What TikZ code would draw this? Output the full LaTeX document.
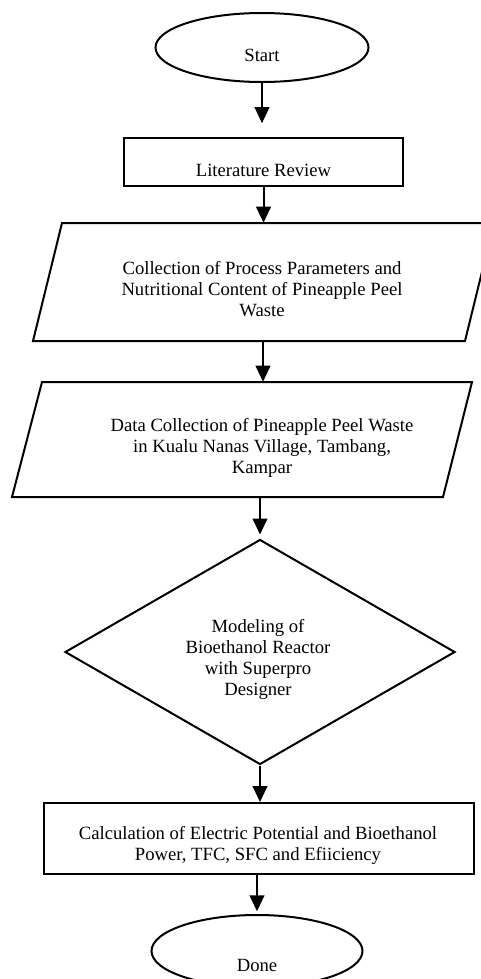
\documentclass[tikz,border=0pt]{standalone}
\usepackage{fontspec}
\setmainfont{Liberation Serif}
\usetikzlibrary{shapes.geometric,arrows.meta}
\begin{document}
\begin{tikzpicture}[x=0.75pt,y=-0.75pt,
  shapeline/.style={draw=black,line width=1.5pt},
  txt/.style={font=\fontsize{14}{15.75}\selectfont,align=center,inner sep=0pt},
  flow/.style={line width=1.5pt,-{Triangle[length=12pt,width=11pt]}}]
\useasboundingbox (0,0) rectangle (481,979);
\clip (0,0) rectangle (481,979);
% shapes
\node[shapeline,ellipse,minimum width=159.75pt,minimum height=51.75pt,inner sep=0pt] (start) at (262,47.5) {};
\node[txt] (tstart) at (262,55) {Start};

\node[shapeline,rectangle,minimum width=209.25pt,minimum height=36pt,inner sep=0pt] (lit) at (263.5,161.5) {};
\node[txt] (tlit) at (263.5,170) {Literature Review};

\draw[shapeline] (62,223) -- (494,223) -- (465,341) -- (33,341) -- cycle;
\node[inner sep=0pt,minimum width=300pt,minimum height=88.5pt] (p1) at (263,282) {};
\node[txt] (tp1) at (262,289) {Collection of Process Parameters and\\Nutritional Content of Pineapple Peel\\Waste};

\draw[shapeline] (42,382) -- (472,382) -- (443,497) -- (12,497) -- cycle;
\node[inner sep=0pt,minimum width=300pt,minimum height=86.25pt] (p2) at (262,439.5) {};
\node[txt] (tp2) at (262,448) {Data Collection of Pineapple Peel Waste\\in Kualu Nanas Village, Tambang,\\Kampar};

\node[shapeline,diamond,minimum width=292.5pt,minimum height=168.75pt,inner sep=0pt] (dia) at (260,652) {};
\node[txt] (tdia) at (258,659.5) {Modeling of\\Bioethanol Reactor\\with Superpro\\Designer};

\node[shapeline,rectangle,minimum width=322.5pt,minimum height=53.25pt,inner sep=0pt] (calc) at (259,838.5) {};
\node[txt] (tcalc) at (258,845.5) {Calculation of Electric Potential and Bioethanol\\Power, TFC, SFC and Efiiciency};

\node[shapeline,ellipse,minimum width=158.25pt,minimum height=54pt,inner sep=0pt] (done) at (257,951) {};
\node[txt] (tdone) at (257,965) {Done};

% connectors
\draw[flow,shorten >=10pt] (start.south) -- (start.south |- lit.north);
\draw[flow] (lit.south) -- (lit.south |- p1.north);
\draw[flow] (p1.south) -- (p1.south |- p2.north);
\draw[flow,shorten >=3pt] (dia.north |- p2.south) -- (dia.north);
\draw[flow] (dia.south) -- (dia.south |- calc.north);
\draw[flow,shorten >=2pt] (done.north |- calc.south) -- (done.north);
\end{tikzpicture}
\end{document}
